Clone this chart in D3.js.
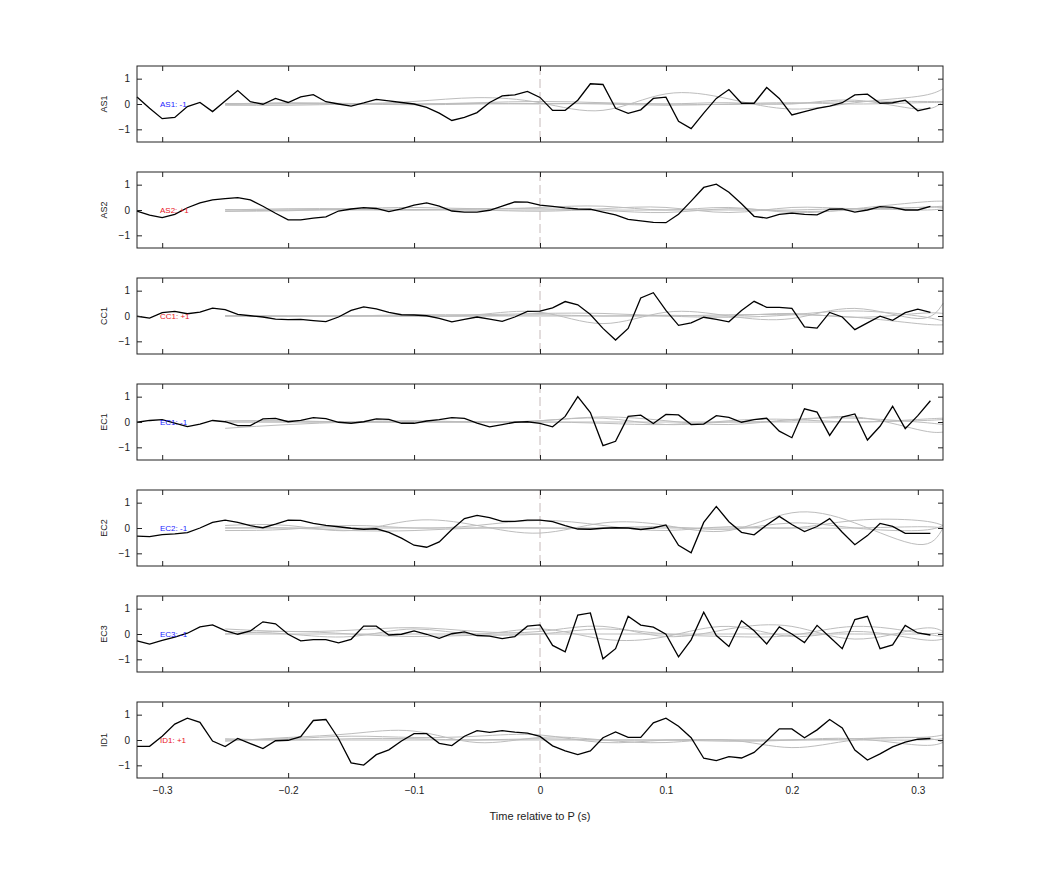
<!DOCTYPE html>
<html><head><meta charset="utf-8">
<script src="https://cdn.jsdelivr.net/npm/d3@7"></script>
<style>body{margin:0;background:#fff}svg{font-family:"Liberation Sans",Arial,sans-serif}</style>
</head><body><svg id="c" width="1042" height="875"></svg>
<script>
const channels = ["AS1","AS2","CC1","EC1","EC2","EC3","ID1"];
const polarity = ["-1","+1","+1","-1","-1","-1","+1"];
const xTicks = [-0.3,-0.2,-0.1,0,0.1,0.2,0.3];
const yTicks = [-1,0,1];
const t0 = -0.32, dt = 0.01;
const as1 = [0.28,-0.17,-0.58,-0.53,-0.1,0.06,-0.3,0.12,0.53,0.09,-0.01,0.22,0.06,0.28,0.37,0.09,0,-0.08,0.04,0.18,0.12,0.06,0,-0.13,-0.36,-0.65,-0.53,-0.34,0.06,0.32,0.36,0.5,0.26,-0.25,-0.25,0.15,0.8,0.77,-0.17,-0.37,-0.23,0.22,0.27,-0.68,-0.97,-0.36,0.22,0.57,0.03,0.03,0.65,0.22,-0.43,-0.3,-0.17,-0.08,0.05,0.36,0.39,0.03,0.05,0.15,-0.27,-0.15];
const as2 = [-0.04,-0.2,-0.3,-0.17,0.09,0.28,0.4,0.45,0.49,0.4,0.15,-0.13,-0.39,-0.39,-0.32,-0.27,-0.04,0.04,0.09,0.06,-0.06,0.04,0.19,0.28,0.15,-0.04,-0.08,-0.08,-0.01,0.15,0.32,0.31,0.19,0.14,0.08,0.04,0.03,-0.08,-0.19,-0.37,-0.43,-0.49,-0.5,-0.17,0.35,0.89,1.02,0.7,0.25,-0.25,-0.32,-0.17,-0.12,-0.17,-0.19,0.03,0.04,-0.08,0,0.13,0.1,0,0,0.14];
const cc1 = [-0.01,-0.08,0.13,0.18,0.09,0.15,0.31,0.25,0.06,0.01,-0.04,-0.12,-0.14,-0.13,-0.18,-0.22,-0.04,0.22,0.36,0.28,0.14,0.05,0.04,0.01,-0.09,-0.23,-0.13,-0.04,-0.12,-0.21,-0.04,0.18,0.19,0.32,0.57,0.44,0.06,-0.49,-0.95,-0.49,0.71,0.92,0.22,-0.37,-0.27,-0.05,-0.13,-0.23,0.22,0.58,0.34,0.34,0.3,-0.43,-0.48,0.14,-0.04,-0.54,-0.27,-0.01,-0.17,0.13,0.27,0.14];
const ec1 = [-0.01,0.06,0.09,-0.04,-0.18,-0.08,0.06,0.01,-0.14,-0.14,0.12,0.14,0.01,0.06,0.17,0.13,-0.01,-0.05,0.01,0.12,0.1,-0.05,-0.05,0.04,0.09,0.17,0.14,-0.04,-0.19,-0.1,-0.01,0.01,-0.05,-0.19,0.22,1.0,0.37,-0.93,-0.76,0.22,0.27,-0.06,0.3,0.28,-0.1,-0.08,0.25,0.18,-0.01,0.09,0.15,-0.36,-0.62,0.52,0.39,-0.53,0.19,0.32,-0.71,-0.17,0.62,-0.26,0.25,0.84];
const ec2 = [-0.32,-0.34,-0.26,-0.23,-0.18,0,0.22,0.31,0.22,0.09,0.01,0.15,0.31,0.3,0.18,0.1,0.05,-0.01,-0.05,-0.03,-0.17,-0.4,-0.68,-0.76,-0.55,-0.06,0.37,0.5,0.41,0.26,0.26,0.31,0.31,0.25,0.09,-0.04,-0.05,-0.01,0.01,0,-0.06,0,0.12,-0.68,-0.98,0.22,0.85,0.25,-0.17,-0.27,0.12,0.46,0.14,-0.14,0.06,0.37,-0.17,-0.66,-0.3,0.18,0.06,-0.21,-0.21,-0.21];
const ec3 = [-0.27,-0.4,-0.25,-0.12,0.03,0.28,0.36,0.13,-0.01,0.12,0.48,0.4,-0.01,-0.27,-0.22,-0.22,-0.35,-0.21,0.31,0.31,-0.04,-0.01,0.12,-0.01,-0.17,0.01,0.08,-0.06,-0.08,-0.18,-0.1,0.31,0.36,-0.45,-0.7,0.75,0.83,-0.98,-0.58,0.7,0.35,0.27,-0.01,-0.9,-0.23,0.86,-0.06,-0.49,0.52,0.13,-0.39,0.28,0,-0.34,0.34,-0.12,-0.58,0.57,0.7,-0.58,-0.43,0.34,0.04,-0.04];
const id1 = [-0.25,-0.25,0.15,0.63,0.86,0.7,-0.04,-0.26,0.06,-0.14,-0.34,-0.03,-0.01,0.13,0.77,0.81,0.06,-0.9,-0.99,-0.58,-0.39,-0.04,0.25,0.25,-0.13,-0.22,0.15,0.37,0.3,0.37,0.31,0.27,0.14,-0.23,-0.43,-0.58,-0.43,0.09,0.32,0.1,0.1,0.68,0.86,0.54,0.09,-0.72,-0.81,-0.66,-0.71,-0.49,-0.04,0.44,0.44,0.09,0.4,0.81,0.48,-0.4,-0.79,-0.55,-0.27,-0.08,0.03,0.06];
const series = [as1,as2,cc1,ec1,ec2,ec3,id1];
const grayTimes = [-0.25,-0.2,-0.15,-0.1,-0.05,0,0.05,0.1,0.15,0.2,0.25,0.3,0.32];
const grays = [
 [[-0.05,-0.05,0,0.1,0.25,0.05,-0.25,0.4,0.2,-0.2,0.05,0.3,0.6],[0,0.05,0.02,0,0.05,0.1,0.05,0,0.05,0,0.15,-0.2,0.1],[-0.02,0,0,-0.03,0,0.02,0,-0.05,0,0.05,0,0.05,0.05],[0.02,0.02,0.01,0,0.02,0,0.03,0,-0.02,0.02,0.1,0.1,0.1]],
 [[-0.05,-0.03,0.05,0.1,0.05,0.1,0.15,0,0.1,-0.1,0.05,0.3,0.35],[0,0.05,0.05,0.02,0,-0.05,0.05,0.1,-0.1,0.1,0.05,0.1,0.15],[-0.05,0,0,0,0,0,-0.02,-0.1,0.05,-0.05,0,0.1,0.1],[0.02,0,0.03,0,0.05,0.05,0,0,0,0,0.05,0,0.05]],
 [[0,0,0,0,0.05,0.15,-0.3,0.15,0,-0.1,0.3,-0.1,0.5],[0,-0.02,0,0.05,0.05,0.1,0.1,0,-0.05,0.05,0.2,0,-0.2],[0.02,0,0,0,0,0,0,0,0.05,0.05,-0.05,-0.3,-0.35],[0,0,0,0,0,0.05,0,0.03,0,0.1,-0.05,0.1,0.1]],
 [[-0.25,-0.1,0,0.05,0,0.05,0.2,0.05,-0.1,0.1,0.15,0,-0.1],[0,0,0,0,0,0.05,0.15,-0.1,0.05,0.1,0,0.1,0.15],[0.05,0.05,0,0,0,0,-0.05,-0.1,0,0.05,0.2,-0.3,-0.4],[0,0,0,0,0,0,0,0,0,0,0,0.05,0.1]],
 [[0.1,0.1,-0.1,0.3,0.1,-0.2,0.2,0.1,-0.1,0.6,0.2,-0.65,0],[-0.1,-0.05,0.1,0,0.1,0.3,0.1,-0.1,0.05,0,0.3,0.3,0.1],[0,0,-0.1,-0.1,0,0,0,0.05,-0.05,0.2,0,-0.1,0.1],[0,0,0,0,0,0,0,0,0,0,0,0.05,0]],
 [[0.2,0.1,0.15,0.25,0.1,0.1,0.3,-0.1,0.2,0.3,-0.2,0.2,0.1],[0.1,0,-0.1,0.2,0,0.2,-0.2,-0.1,0.3,-0.1,0.1,-0.2,-0.2],[0,0.1,0,-0.1,-0.05,0,0.2,0,-0.1,-0.05,0.3,0.05,-0.1],[0,0,0,0,0,0,0,0,0,0,0,0,0.05]],
 [[-0.05,0.1,0.25,0.35,-0.1,0.1,0,-0.1,0,-0.3,0,0.1,0.2],[0,0.05,0.15,0.1,0.15,0.2,-0.1,0,0,0,0.05,0.1,-0.1],[0,0,0,0,0,0,0,0,-0.05,0,0.05,-0.2,-0.1],[0.05,0,0.05,0.05,0,0.05,0,0,0,0,0,0,0.05]]
];

const svg = d3.select("#c");
const L = 137, R = 943, H = 76, tops = [66,172,278,384,490,596,702];
const x = d3.scaleLinear().domain([-0.32,0.32]).range([L,R]);
const blueC = "#1a1aff", redC = "#e8141c";
channels.forEach((ch,i)=>{
  const top = tops[i];
  const y = d3.scaleLinear().domain([-1.5,1.5]).range([top+H,top]);
  const g = svg.append("g");
  g.append("line").attr("x1",x(0)).attr("x2",x(0)).attr("y1",top).attr("y2",top+H)
    .attr("stroke","#b8a8a8").attr("stroke-width",0.8).attr("stroke-dasharray","9,4");
  const gl = d3.line().x((d,k)=>x(grayTimes[k])).y(d=>y(d)).curve(d3.curveNatural);
  grays[i].forEach(a=>g.append("path").attr("d",gl(a)).attr("fill","none").attr("stroke","#bdbdbd").attr("stroke-width",1));
  const bl = d3.line().x((d,k)=>x(t0+k*dt)).y(d=>y(d));
  g.append("path").attr("d",bl(series[i])).attr("fill","none").attr("stroke","#000").attr("stroke-width",1.3);
  const ax = d3.axisBottom(x).tickValues(xTicks).tickSize(-5).tickFormat(i===6?d3.format(""):"");
  const gx = g.append("g").attr("transform",`translate(0,${top+H})`).call(ax);
  const gxt = g.append("g").attr("transform",`translate(0,${top})`).call(d3.axisTop(x).tickValues(xTicks).tickSize(-5).tickFormat(""));
  const gy = g.append("g").attr("transform",`translate(${L},0)`).call(d3.axisLeft(y).tickValues(yTicks).tickSize(-5).tickFormat(d3.format("")));
  const gyr = g.append("g").attr("transform",`translate(${R},0)`).call(d3.axisRight(y).tickValues(yTicks).tickSize(-5).tickFormat(""));
  [gx,gxt,gy,gyr].forEach(a=>{a.selectAll(".domain").remove();a.selectAll("line").attr("stroke","#222");a.selectAll("text").attr("font-size",10).attr("fill","#222");});
  gy.selectAll("text").attr("x",-7);
  gx.selectAll("text").attr("y",9);
  g.append("rect").attr("x",L).attr("y",top).attr("width",R-L).attr("height",H).attr("fill","none").attr("stroke","#222").attr("stroke-width",1);
  g.append("text").attr("transform",`translate(107,${top+H/2}) rotate(-90)`).attr("text-anchor","middle").attr("font-size",9).attr("fill","#222").text(ch);
  g.append("text").attr("x",160).attr("y",y(0)+3).attr("font-size",8).attr("fill",polarity[i]==="+1"?redC:blueC).text(ch+": "+polarity[i]);
});
svg.append("text").attr("x",x(0)).attr("y",820).attr("text-anchor","middle").attr("font-size",11).attr("fill","#222").text("Time relative to P (s)");
</script></body></html>
